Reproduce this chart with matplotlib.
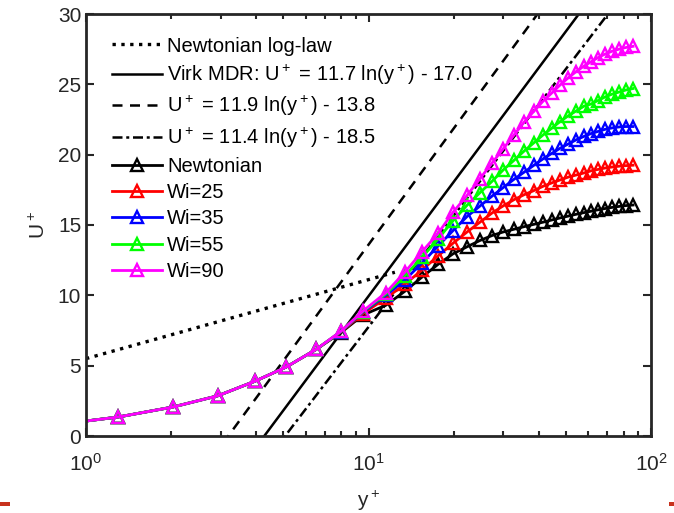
import numpy as np
import matplotlib
matplotlib.use('Agg')
import matplotlib.pyplot as plt
from matplotlib.patches import Rectangle

plt.rcParams['font.family'] = ['Liberation Sans', 'DejaVu Sans']
plt.rcParams['mathtext.default'] = 'regular'

# wall-normal positions of the markers (y+)
yplus = [0.75, 1.30, 2.03, 2.93, 3.97, 5.11, 6.52, 7.99, 9.56, 11.53, 13.47, 15.47,
         17.62, 19.91, 22.32, 24.81, 27.36, 29.93, 32.74, 35.52, 38.53, 41.47,
         44.63, 47.64, 50.84, 54.27, 57.93, 61.33, 64.93, 68.74, 72.76, 77.04,
         81.55, 86.37]

near_wall = [0.75, 1.35, 2.06, 2.86, 3.90, 4.90, 6.15]

u_newt = near_wall + [7.35, 8.6, 9.3, 10.3, 11.3, 12.2, 12.95, 13.45, 13.9, 14.25,
                      14.5, 14.7, 14.88, 15.05, 15.2, 15.36, 15.5, 15.63, 15.76,
                      15.88, 15.98, 16.08, 16.17, 16.25, 16.32, 16.38, 16.42]
u_wi25 = near_wall + [7.4, 8.7, 9.8, 10.8, 11.8, 12.8, 13.7, 14.5, 15.2, 15.85,
                      16.35, 16.8, 17.15, 17.45, 17.75, 18.0, 18.2, 18.4, 18.55,
                      18.7, 18.85, 18.95, 19.05, 19.12, 19.18, 19.22, 19.25]
u_wi35 = near_wall + [7.42, 8.8, 10.0, 11.1, 12.3, 13.5, 14.6, 15.6, 16.35, 17.05,
                      17.65, 18.25, 18.75, 19.25, 19.7, 20.1, 20.45, 20.75, 21.05,
                      21.3, 21.5, 21.65, 21.8, 21.9, 21.97, 22.0, 22.0]
u_wi55 = near_wall + [7.44, 8.85, 10.1, 11.4, 12.7, 14.0, 15.3, 16.4, 17.3, 18.1,
                      18.9, 19.6, 20.25, 20.85, 21.4, 21.9, 22.35, 22.75, 23.1,
                      23.45, 23.6, 23.85, 24.1, 24.3, 24.45, 24.6, 24.7]
u_wi90 = near_wall + [7.45, 8.88, 10.2, 11.66, 13.1, 14.4, 15.9, 17.1, 18.3, 19.4,
                      20.4, 21.4, 22.3, 23.1, 23.8, 24.4, 24.95, 25.45, 25.9,
                      26.3, 26.6, 26.9, 27.15, 27.35, 27.5, 27.62, 27.7]

series = [("Newtonian", u_newt, "black"),
          ("Wi=25", u_wi25, "red"),
          ("Wi=35", u_wi35, "blue"),
          ("Wi=55", u_wi55, (0, 1, 0)),
          ("Wi=90", u_wi90, "magenta")]

# reference laws: U+ = a ln(y+) + b
y_line = np.array([1.0, 100.0])
kappa_inv, b_newt = 1 / 0.41, 5.5
virk = (11.7, -17.0)
fit1 = (11.9, -13.8)
fit2 = (11.4, -18.5)

fig = plt.figure(figsize=(6.74, 5.13), dpi=100)
ax = fig.add_axes([86 / 674, 1 - 436 / 513, 565 / 674, 422 / 513])

y_log = np.array([1.0, 12.4])
ax.plot(y_log, kappa_inv * np.log(y_log) + b_newt, ':', color='black', lw=2.4,
        label='Newtonian log-law')
ax.plot(y_line, virk[0] * np.log(y_line) + virk[1], '-', color='black', lw=1.8,
        label='Virk MDR: U$^+$ = 11.7 ln(y$^+$) - 17.0')
ax.plot(y_line, fit1[0] * np.log(y_line) + fit1[1], '--', color='black', lw=1.8,
        dashes=(4, 3), label='U$^+$ = 11.9 ln(y$^+$) - 13.8')
ax.plot(y_line, fit2[0] * np.log(y_line) + fit2[1], '-.', color='black', lw=1.8,
        dashes=(4, 1.5, 1.2, 1.5), label='U$^+$ = 11.4 ln(y$^+$) - 18.5')

for name, u, c in series:
    ax.plot(yplus, u, '-^', color=c, lw=2, ms=8.5, mfc='none', mew=1.7, label=name)

ax.set_xscale('log')
ax.set_xlim(1, 100)
ax.set_ylim(0, 30)
ax.set_yticks([0, 5, 10, 15, 20, 25, 30])
ax.set_xlabel('y$^+$', fontsize=15, color='#262626', labelpad=10)
ax.set_ylabel('U$^+$', fontsize=15, color='#262626', labelpad=6)
ax.tick_params(which='both', direction='in', top=True, right=True,
               labelsize=15, colors='#262626', width=1.5)
ax.tick_params(axis='x', which='major', pad=12)
ax.tick_params(which='major', length=6)
ax.tick_params(which='minor', length=3.5)
for s in ax.spines.values():
    s.set_linewidth(2)
    s.set_color('#262626')

ax.legend(loc='upper left', frameon=False, fontsize=14.5, handlelength=2.5,
          handletextpad=0.25, labelspacing=0.36, borderaxespad=0.3,
          bbox_to_anchor=(0.021, 0.98))

# red slide marks at the bottom corners
fig.add_artist(Rectangle((0, 7 / 513), 10 / 674, 4 / 513, transform=fig.transFigure,
                         color='#c8321e', lw=0))
fig.add_artist(Rectangle((669 / 674, 7 / 513), 5 / 674, 4 / 513, transform=fig.transFigure,
                         color='#c8321e', lw=0))

fig.savefig('out.png', dpi=100)
